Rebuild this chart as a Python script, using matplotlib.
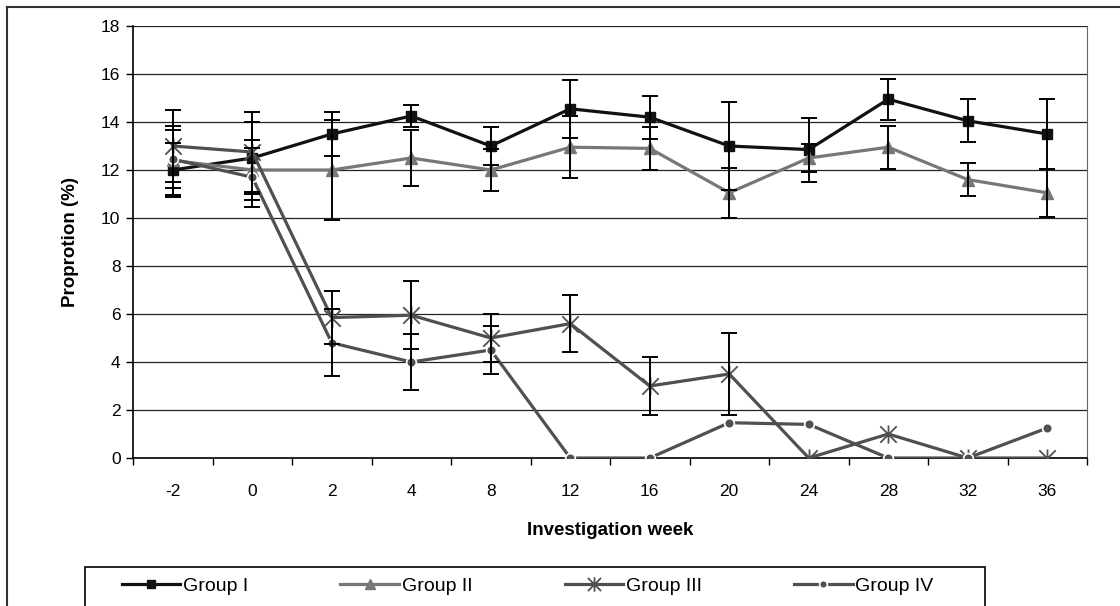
import matplotlib
matplotlib.use("Agg")
import matplotlib.pyplot as plt
import numpy as np
from matplotlib.path import Path
from matplotlib.lines import Line2D
from matplotlib.patches import Rectangle

plt.rcParams['font.family'] = ['Liberation Sans', 'DejaVu Sans']

weeks = ["-2", "0", "2", "4", "8", "12", "16", "20", "24", "28", "32", "36"]
group_names = ["Group I", "Group II", "Group III", "Group IV"]

g1 = [12.0, 12.5, 13.5, 14.25, 13.0, 14.55, 14.2, 13.0, 12.85, 14.95, 14.05, 13.5]
g2 = [12.4, 12.0, 12.0, 12.5, 12.0, 12.95, 12.9, 11.05, 12.5, 12.95, 11.6, 11.05]
g3 = [13.0, 12.75, 5.85, 5.95, 5.0, 5.6, 3.0, 3.5, 0.0, 1.0, 0.0, 0.0]
g4 = [12.45, 11.7, 4.8, 4.0, 4.5, 0.0, 0.0, 1.47, 1.4, 0.0, 0.0, 1.25]

e1 = [1.13, 1.5, 0.93, 0.45, 0.8, 1.2, 0.9, 1.85, 1.33, 0.86, 0.9, 1.45]
e2 = [1.45, 1.25, 2.1, 1.15, 0.88, 1.3, 0.9, 1.05, 0.6, 0.9, 0.7, 1.0]
e3 = [1.5, 1.68, 1.1, 1.42, 1.0, 1.2, 1.2, 1.7, 0, 0, 0, 0]
e4 = [1.2, 1.23, 1.4, 1.17, 1.0, 0, 0, 0, 0, 0, 0, 0]

star = Path([(-1, -1), (1, 1), (-1, 1), (1, -1), (0, -1.1), (0, 1.1)],
            [Path.MOVETO, Path.LINETO, Path.MOVETO, Path.LINETO, Path.MOVETO, Path.LINETO])

fig = plt.figure(figsize=(11.2, 6.06), dpi=100)
ax = fig.add_axes([133/1120, 1-458/606, (1087-133)/1120, (458-26)/606])

x = np.arange(len(weeks))
series = [
    (g1, e1, dict(color='#111111', marker='s', ms=7.5, mfc='#111111', mec='#111111')),
    (g2, e2, dict(color='#777777', marker='^', ms=9, mfc='#777777', mec='#777777')),
    (g3, e3, dict(color='#505050', marker=star, ms=13, mfc='none', mec='#505050', mew=1.3)),
    (g4, e4, dict(color='#505050', marker='o', ms=7, mfc='#505050', mec='white', mew=1.2)),
]

handles = []
for i, (vals, errs, st) in enumerate(series):
    ln, = ax.plot(x, vals, lw=2.3, zorder=3 + i * 0.1, label=group_names[i], **st)
    handles.append(ln)
    errs = np.array(errs, dtype=float)
    m = errs > 0
    ax.errorbar(x[m], np.array(vals)[m], yerr=errs[m], fmt='none', ecolor='black',
                elinewidth=1.4, capsize=6, capthick=1.4, zorder=4)

ax.set_xlim(-0.5, len(weeks) - 0.5)
ax.set_ylim(0, 18)
ax.set_yticks(np.arange(0, 19, 2))
ax.set_xticks(x)
ax.set_xticklabels(weeks)
ax.set_xticks(np.arange(-0.5, len(weeks), 1), minor=True)
ax.tick_params(axis='x', which='major', length=0, pad=19, labelsize=12.5)
ax.tick_params(axis='x', which='minor', length=5, width=1, color='black', direction='out')
ax.tick_params(axis='y', length=5, width=1, direction='out', labelsize=12.5, pad=4)
ax.grid(axis='y', color='#222222', lw=0.9, zorder=1)
ax.set_axisbelow(True)
ax.spines['top'].set_visible(False)
ax.spines['right'].set_color('#666666')
ax.spines['left'].set_linewidth(1.2)
ax.spines['bottom'].set_linewidth(1.2)

ax.set_xlabel("Investigation week", fontsize=13.5, fontweight='bold', labelpad=16)
ax.set_ylabel("Proprotion (%)", fontsize=13.5, fontweight='bold', labelpad=16)

# outer chart border
fig.add_artist(Line2D([7/1120, 1.0], [1-7/606, 1-7/606], transform=fig.transFigure,
                      color='#333333', lw=1.5))
fig.add_artist(Line2D([7/1120, 7/1120], [0, 1-7/606], transform=fig.transFigure,
                      color='#333333', lw=1.5))

# legend box
fig.add_artist(Rectangle((85/1120, -0.05), (985-85)/1120, (0.05 + 1-567/606),
                         transform=fig.transFigure, fill=False, ec='black', lw=1.2))
fig.legend(handles=handles, loc='center left', bbox_to_anchor=(104/1120, 1-586/606),
           ncol=4, frameon=False, fontsize=14, handlelength=3.0, handletextpad=0.15,
           columnspacing=4.75, markerscale=0.8)

fig.savefig("out.png", dpi=100)
